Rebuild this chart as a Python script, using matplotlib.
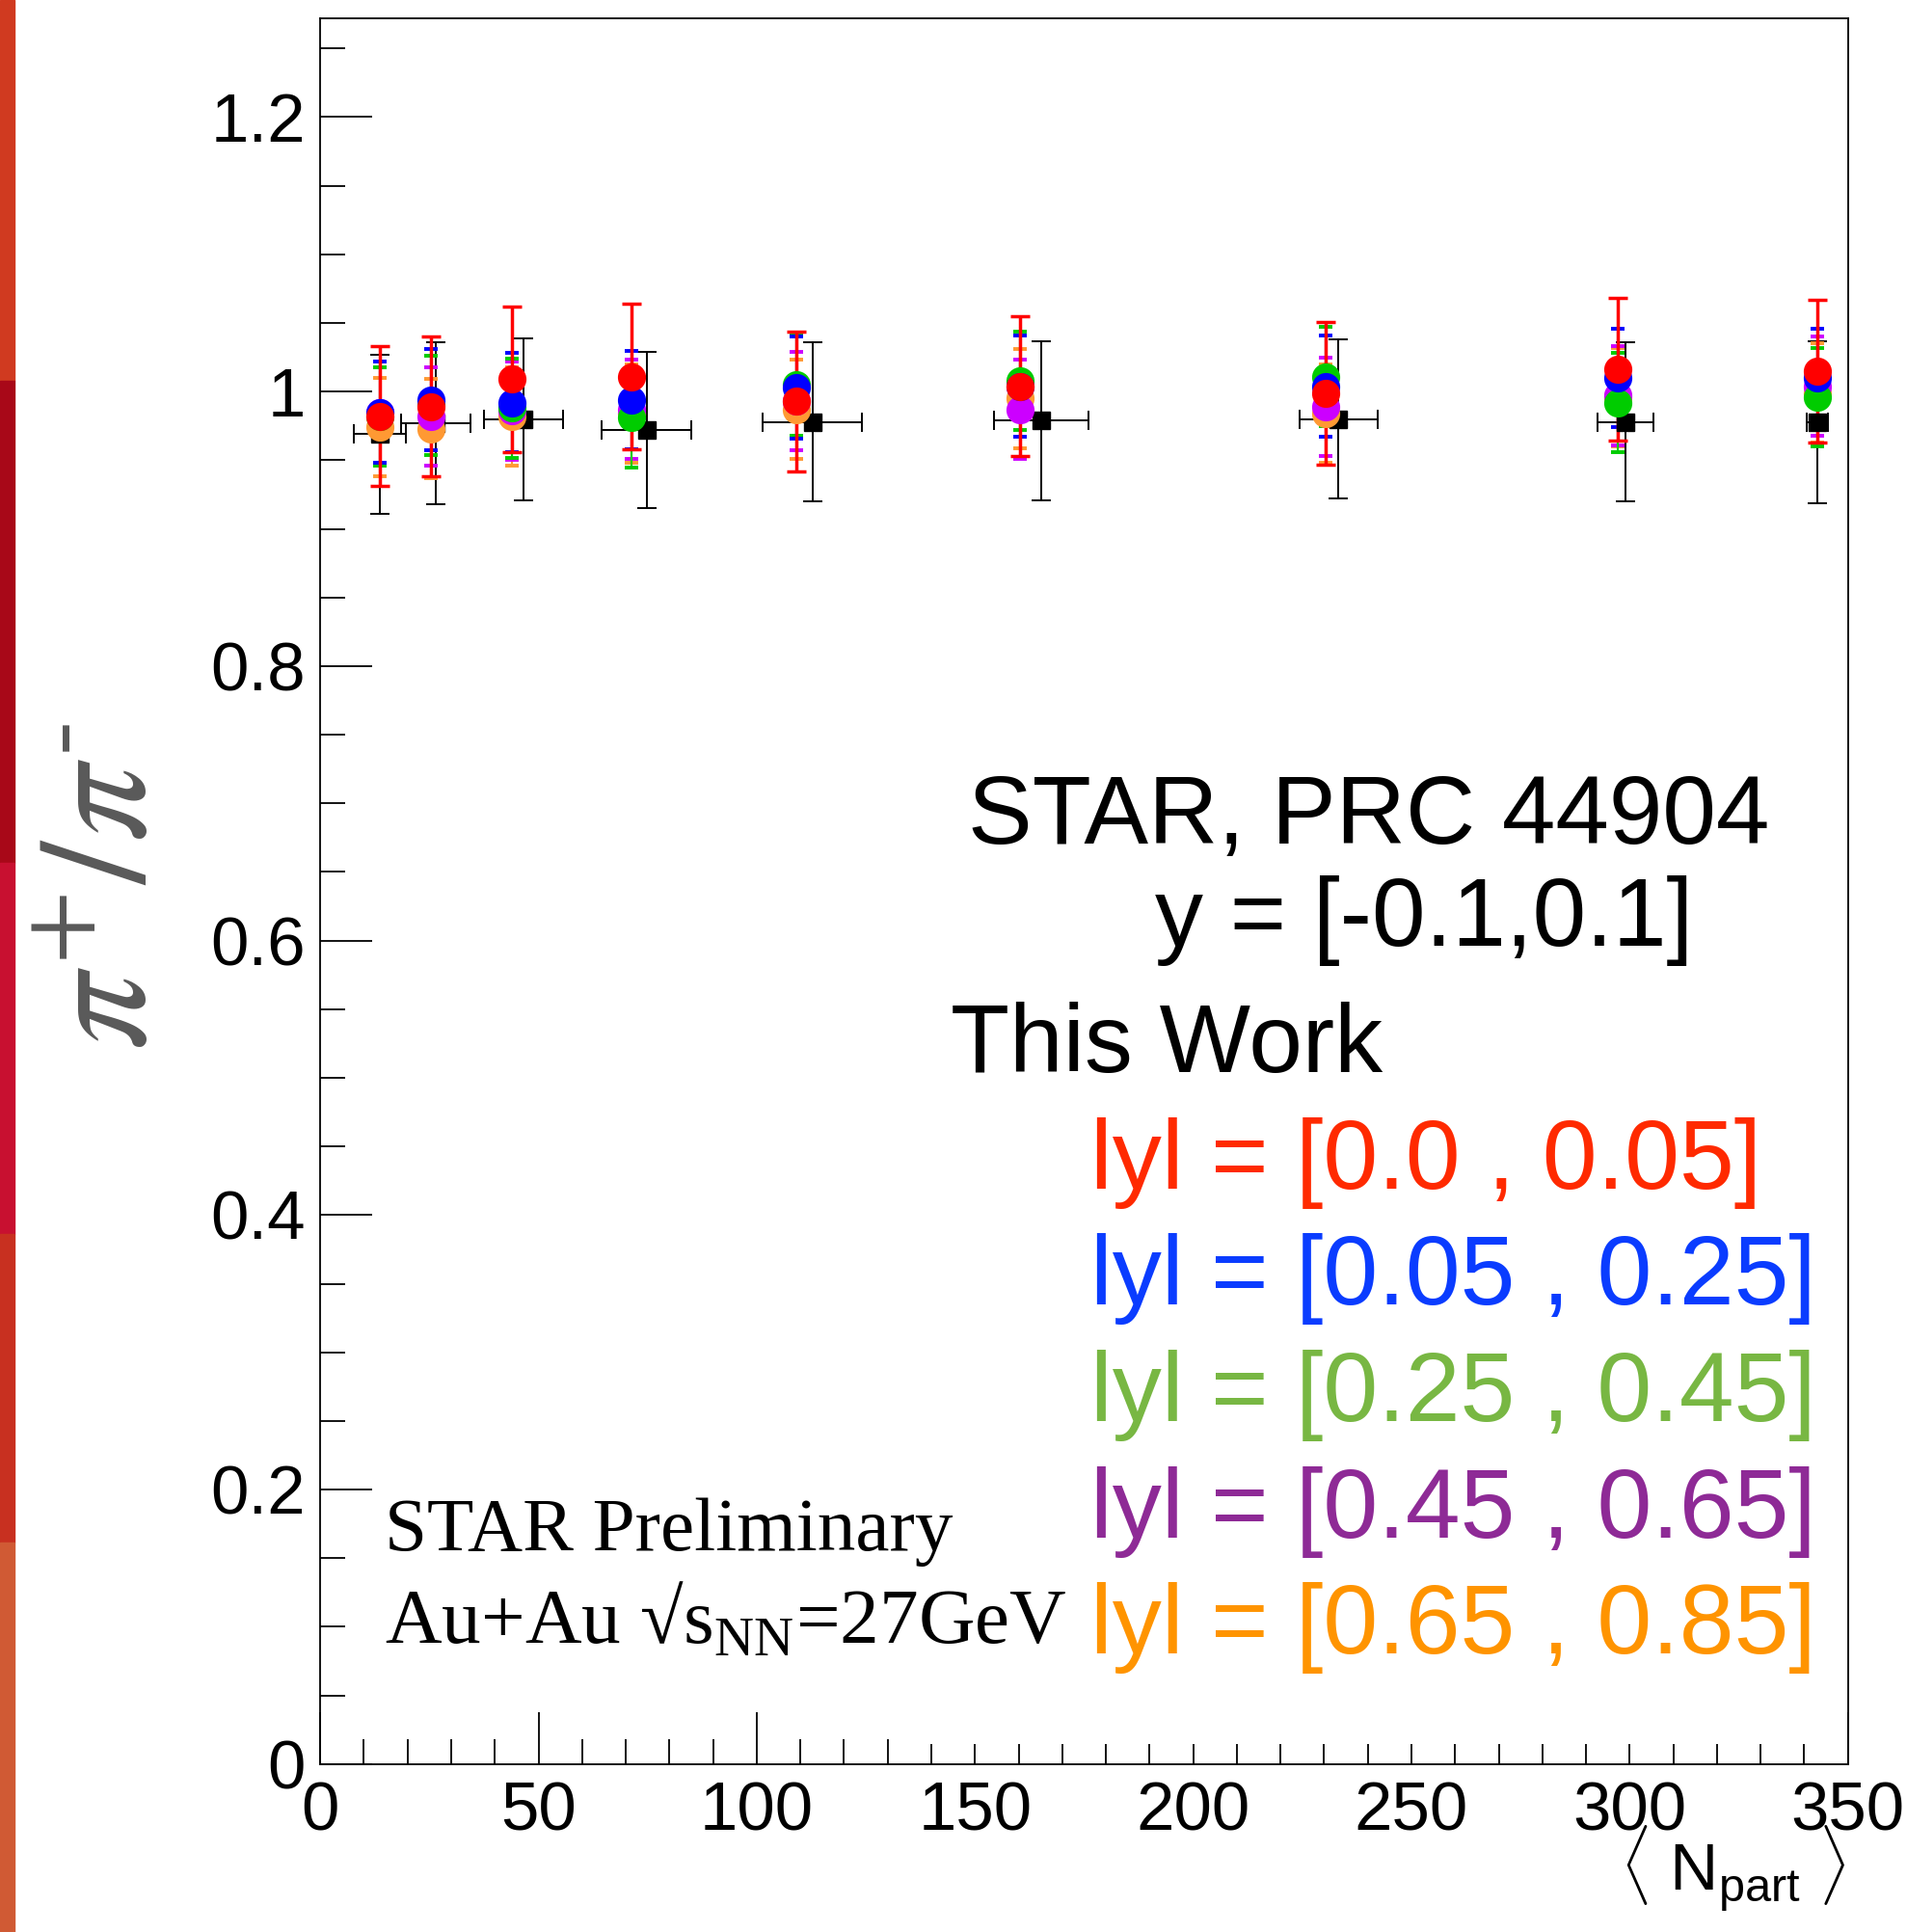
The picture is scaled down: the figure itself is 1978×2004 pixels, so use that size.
import matplotlib.pyplot as plt
from matplotlib.patches import Rectangle
from matplotlib.ticker import MultipleLocator, FuncFormatter

plt.rcParams['font.family'] = ['Liberation Sans', 'DejaVu Sans']
plt.rcParams['mathtext.fontset'] = 'custom'
plt.rcParams['mathtext.sf'] = 'Liberation Sans'
plt.rcParams['mathtext.rm'] = 'Liberation Serif'

# STAR, PRC 44904, y = [-0.1, 0.1]
npart_star = [13.6, 26.5, 46.5, 74.8, 112.8, 165.1, 233.3, 299.0, 343.0]
npart_star_err = [6.0, 8.0, 9.1, 10.3, 11.4, 10.8, 9.0, 6.4, 2.5]
ratio_star = [0.969, 0.977, 0.980, 0.972, 0.978, 0.979, 0.980, 0.978, 0.978]
ratio_star_err = [0.058, 0.059, 0.059, 0.057, 0.058, 0.058, 0.058, 0.058, 0.059]

# this work, five |y| windows
npart_this = [13.6, 25.4, 44.0, 71.4, 109.0, 160.3, 230.3, 297.3, 343.0]
ratio_y085 = [0.974, 0.973, 0.982, 0.984, 0.987, 0.995, 0.984, 0.996, 0.999]
ratio_y065 = [0.985, 0.982, 0.986, 0.987, 0.993, 0.987, 0.989, 0.997, 1.004]
ratio_y045 = [0.982, 0.990, 0.988, 0.981, 1.005, 1.008, 1.011, 0.992, 0.996]
ratio_y025 = [0.985, 0.994, 0.992, 0.994, 1.003, 1.004, 1.004, 1.010, 1.010]
ratio_y005 = [0.982, 0.989, 1.009, 1.011, 0.993, 1.004, 0.999, 1.016, 1.015]
err_y085 = [0.036, 0.036, 0.036, 0.036, 0.036, 0.036, 0.036, 0.036, 0.036]
err_y065 = [0.037, 0.036, 0.036, 0.036, 0.036, 0.036, 0.036, 0.036, 0.036]
err_y045 = [0.036, 0.036, 0.036, 0.036, 0.037, 0.036, 0.036, 0.036, 0.036]
err_y025 = [0.037, 0.037, 0.036, 0.036, 0.037, 0.037, 0.037, 0.036, 0.036]
err_y005 = [0.051, 0.051, 0.053, 0.053, 0.051, 0.051, 0.052, 0.052, 0.052]

labels = ['lyl = [0.0 , 0.05]', 'lyl = [0.05 , 0.25]', 'lyl = [0.25 , 0.45]',
          'lyl = [0.45 , 0.65]', 'lyl = [0.65 , 0.85]']
text_colors = ['#ff2a00', '#0a3cff', '#78b743', '#8e2a96', '#ff9400']

fig = plt.figure(figsize=(19.78, 20.04), dpi=100)
W, H = 1978, 2004

# red strip of the slide background on the left edge
strip_cols = ['#d03a20', '#a80818', '#c81030', '#c83020', '#d05a34']
strip_edges = [0, 395, 895, 1280, 1600, 2004]
for c, y0, y1 in zip(strip_cols, strip_edges[:-1], strip_edges[1:]):
    fig.patches.append(Rectangle((0, 1 - y1 / H), 15 / W, (y1 - y0) / H,
                                 transform=fig.transFigure, color=c, zorder=0))

ax = fig.add_axes([332.2 / W, 1 - 1829.8 / H, 1584.5 / W, 1810.8 / H])
ax.set_xlim(0, 350)
ax.set_ylim(0, 1.272)

ax.errorbar(npart_star, ratio_star, xerr=npart_star_err, yerr=ratio_star_err,
            fmt='s', color='black', ms=13, elinewidth=1.4, capsize=7, capthick=1.4)

series = [(ratio_y085, err_y085, '#ff9933'),
          (ratio_y065, err_y065, '#cc00ff'),
          (ratio_y045, err_y045, '#00cc00'),
          (ratio_y025, err_y025, '#0000ff')]
for vals, errs, c in series:
    ax.errorbar(npart_this, vals, yerr=errs, fmt='o', color=c, ms=21, mec='none',
                elinewidth=1.5, capsize=5, capthick=2.8)
ax.errorbar(npart_this, ratio_y005, yerr=err_y005, fmt='o', color='#ff0000', ms=21,
            mec='none', elinewidth=2.5, capsize=7, capthick=2.5)

# legend pad hides the upper part of the x ticks on the right
ax.add_patch(Rectangle((135, 0.0148), 214.8, 0.78, facecolor='white',
                       edgecolor='none', zorder=1.8))

ax.xaxis.set_major_locator(MultipleLocator(50))
ax.xaxis.set_minor_locator(MultipleLocator(10))
ax.yaxis.set_major_locator(MultipleLocator(0.2))
ax.yaxis.set_minor_locator(MultipleLocator(0.05))
ax.yaxis.set_major_formatter(FuncFormatter(lambda v, p: f'{v:g}'))
ax.tick_params(which='both', direction='in', top=False, right=False,
               width=1.3, labelsize=51)
ax.tick_params(which='major', length=39)
ax.tick_params(which='minor', length=19)
ax.tick_params(axis='y', pad=11)
ax.tick_params(axis='x', pad=13)
for s in ax.spines.values():
    s.set_linewidth(1.3)

# axis titles
fig.text(110 / W, 1 - 920 / H, '$\\pi^{+}/\\pi^{\u2010}$', rotation=90, ha='center',
         va='center', fontsize=114, color='#595959', math_fontfamily='stix')
fig.text(1915 / W, 1 - 1962 / H, r'$\langle\;\mathsf{N}_{\mathsf{part}}\;\rangle$',
         ha='right', va='baseline', fontsize=50)

# legend
fig.text(1004 / W, 1 - 875 / H, 'STAR, PRC 44904', fontsize=72, va='baseline')
fig.text(1198 / W, 1 - 981 / H, 'y = [-0.1,0.1]', fontsize=72, va='baseline')
fig.text(986 / W, 1 - 1112 / H, 'This Work', fontsize=72, va='baseline')
for i, (lab, c) in enumerate(zip(labels, text_colors)):
    fig.text(1131 / W, 1 - (1233 + 120.5 * i) / H, lab, fontsize=73.5,
             color=c, va='baseline')

serif = ['Liberation Serif', 'DejaVu Serif']
fig.text(399 / W, 1 - 1608 / H, 'STAR Preliminary', family=serif,
         fontsize=57, va='baseline')
fig.text(399 / W, 1 - 1705 / H, r'Au+Au √s$_{\mathrm{NN}}$=27GeV', family=serif,
         fontsize=58.5, va='baseline')

fig.savefig('out.png', dpi=100)
